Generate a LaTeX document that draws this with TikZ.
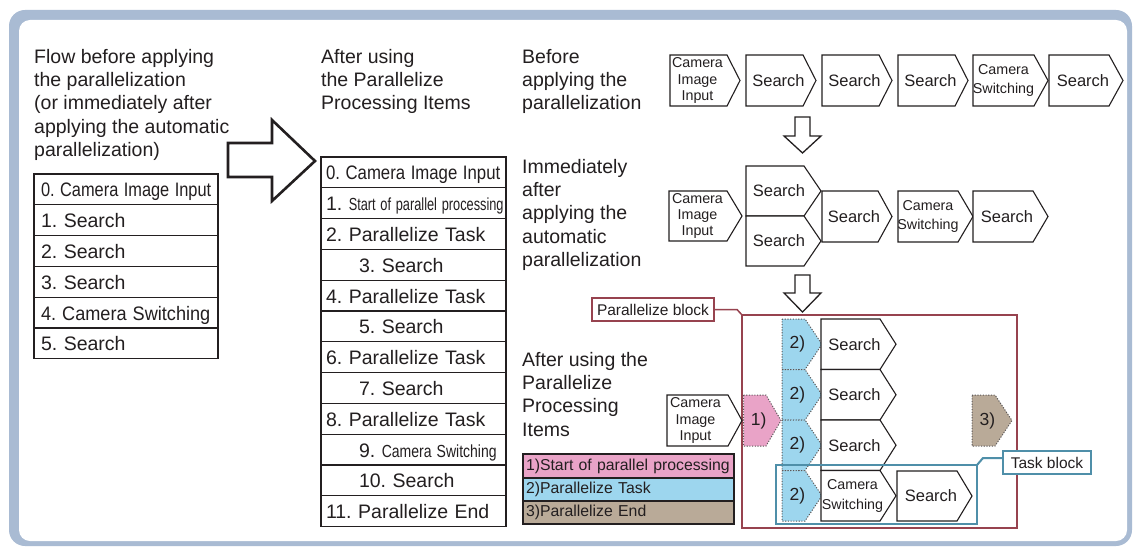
\documentclass[tikz,border=0pt]{standalone}
\usepackage{fontspec}
\usepackage{graphicx}
\setmainfont{Liberation Sans}
\frenchspacing
\definecolor{framecol}{HTML}{A9BBD3}
\definecolor{pinkfill}{HTML}{E9A3C7}
\definecolor{bluefill}{HTML}{9DD6EE}
\definecolor{tanfill}{HTML}{B9AA98}
\definecolor{blockred}{HTML}{97434F}
\definecolor{taskteal}{HTML}{4F8FA9}
\definecolor{ink}{HTML}{231F20}

% #1 name, #2 left x, #3 top y, #4 width to tip, #5 height, #6 tip depth, #7 shape style, #8 label options, #9 text
\newcommand\pentshape[9]{%
  \draw[#7] (#2,#3) -- ++(#4-#6,0) -- ++(#6,#5/2) -- ++(-#6,#5/2) -- ++(-#4+#6,0) -- cycle;
  \node[pentlabel,#8] (#1) at ({#2+(#4-#6)/2+4},{#3+#5/2}) {#9};
}

\begin{document}
\begin{tikzpicture}[x=1pt,y=-1pt,
  every node/.style={text=ink},
  pentbox/.style={draw=ink, line width=1.1pt, fill=white, line join=miter},
  pentdot/.style={draw=ink!75, line width=1pt, dash pattern=on 1.1pt off 1.6pt},
  pentlabel/.style={inner sep=0pt, align=center, font=\fontsize{16.5}{18}\selectfont},
  camfont/.style={font=\fontsize{14.3}{16.3}\selectfont},
  swfont/.style={font=\fontsize{14.3}{19.5}\selectfont},
  numfont/.style={font=\fontsize{17.5}{19}\selectfont},
  heading/.style={anchor=north west, inner sep=0pt, align=left, font=\fontsize{19.5}{23.3}\selectfont},
  tabrow/.style={draw=ink, line width=1.2pt, anchor=north west, inner xsep=7pt, inner ysep=0pt, outer sep=0pt,
     minimum height=30.8pt, text height=15pt, text depth=0pt, align=left, font=\fontsize{19.5}{22}\selectfont},
  ltab/.style={tabrow, text width=170pt},
  mtab/.style={tabrow, inner xsep=5pt, text width=175pt},
  legrow/.style={draw=ink, line width=1.8pt, anchor=north west, inner xsep=3pt, inner ysep=0pt, outer sep=0pt,
     text width=205pt, align=left, font=\fontsize{15.8}{18}\selectfont, text height=11.5pt, text depth=3pt},
  bigarrow/.style={draw=ink, fill=white, line width=1.3pt, line join=miter},
  callout/.style={anchor=north west, inner sep=0pt, outer sep=0pt, fill=white, font=\fontsize{15.5}{18}\selectfont}
]
\useasboundingbox (0,0) rectangle (1134,548);
% frame
\fill[framecol, rounded corners=16pt] (9,10) rectangle (1132,546);
\fill[white, rounded corners=11pt] (19,20) rectangle (1127,541);

% headings
\node[heading] (h1) at (34,49) {Flow before applying\\the parallelization\\(or immediately after\\applying the automatic\\parallelization)};
\node[heading] (h2) at (321,49) {After using\\the Parallelize\\Processing Items};
\node[heading] (h3) at (522,49) {Before\\applying the\\parallelization};
\node[heading] (h4) at (522,159) {Immediately\\after\\applying the\\automatic\\parallelization};
\node[heading] (h5) at (522,352) {After using the\\Parallelize\\Processing\\Items};

% left table
\node[ltab] (l0) at (34,174) {\scalebox{0.84}[1]{0. Camera Image Input}};
\node[ltab] (l1) at (34,204.8) {1. Search};
\node[ltab] (l2) at (34,235.6) {2. Search};
\node[ltab] (l3) at (34,266.4) {3. Search};
\node[ltab] (l4) at (34,297.2) {\scalebox{0.93}[1]{4. Camera Switching}};
\node[ltab] (l5) at (34,328) {5. Search};

% big arrow
\draw[bigarrow, line width=2.6pt] (228,143) -- (272,143) -- (272,120) -- (315,161) -- (272,201) -- (272,177) -- (228,177) -- cycle;

% middle table
\node[mtab] (m0) at (321,157) {\scalebox{0.86}[1]{0. Camera Image Input}};
\node[mtab] (m1) at (321,187.8) {1.~\scalebox{0.73}[1]{\fontsize{17.5}{20}\selectfont Start of parallel processing}};
\node[mtab] (m2) at (321,218.6) {2. Parallelize Task};
\node[mtab] (m3) at (321,249.4) {\hspace*{33pt}3. Search};
\node[mtab] (m4) at (321,280.2) {4. Parallelize Task};
\node[mtab] (m5) at (321,311) {\hspace*{33pt}5. Search};
\node[mtab] (m6) at (321,341.8) {6. Parallelize Task};
\node[mtab] (m7) at (321,372.6) {\hspace*{33pt}7. Search};
\node[mtab] (m8) at (321,403.4) {8. Parallelize Task};
\node[mtab] (m9) at (321,434.2) {\hspace*{33pt}9.~\scalebox{0.8}[1]{\fontsize{17.5}{20}\selectfont Camera Switching}};
\node[mtab] (m10) at (321,465) {\hspace*{33pt}10. Search};
\node[mtab] (m11) at (321,495.8) {11. Parallelize End};

% top flow
\pentshape{a1}{670}{55}{70}{51}{13}{pentbox}{camfont,xshift=-5pt}{Camera\\Image\\Input}
\pentshape{a2}{746}{55}{70}{51}{13}{pentbox}{}{Search}
\pentshape{a3}{822}{55}{70}{51}{13}{pentbox}{}{Search}
\pentshape{a4}{898}{55}{70}{51}{13}{pentbox}{}{Search}
\pentshape{a5}{973}{55}{75}{51}{14}{pentbox}{swfont,xshift=-4pt}{Camera\\Switching}
\pentshape{a6}{1049}{55}{74}{51}{14}{pentbox}{}{Search}

% down arrows
\draw[bigarrow] (795,117) -- (810,117) -- (810,136) -- (821,136) -- (802.5,153) -- (784,136) -- (795,136) -- cycle;
\draw[bigarrow] (795,275) -- (810,275) -- (810,293) -- (821,293) -- (802.5,312) -- (784,293) -- (795,293) -- cycle;

% middle flow
\pentshape{b1}{669}{191}{73}{50}{15}{pentbox}{camfont,xshift=-4.5pt}{Camera\\Image\\Input}
\pentshape{b2}{746}{166}{75}{50}{17}{pentbox}{}{Search}
\pentshape{b3}{746}{216}{75}{50}{17}{pentbox}{}{Search}
\pentshape{b4}{822}{191}{70}{51}{14}{pentbox}{}{Search}
\pentshape{b5}{898}{191}{75}{51}{15}{pentbox}{swfont,xshift=-4pt}{Camera\\Switching}
\pentshape{b6}{973}{191}{75}{51}{15}{pentbox}{}{Search}

% parallelize block
\node[draw=blockred, line width=2.5pt, minimum width=275pt, minimum height=213pt, inner sep=0pt, outer sep=0pt, anchor=north west] (pblock) at (742,315) {};
\node[callout, draw=blockred, line width=1.5pt, minimum width=122pt, minimum height=23pt] (plabel) at (592,298) {Parallelize block};
\coordinate (pbend) at (737,309.5);
\draw[blockred, line width=1.5pt] (plabel.east) -- (pbend) -- (pblock.north west);

\pentshape{c0}{667}{395}{75}{51}{14}{pentbox}{camfont,xshift=-6pt}{Camera\\Image\\Input}
\pentshape{p1}{743.5}{395}{37.5}{51}{15}{pentdot, fill=pinkfill}{numfont}{1)}
\pentshape{q1}{782}{319}{40}{50.5}{17}{pentdot, fill=bluefill}{numfont}{2)}
\pentshape{q2}{782}{369.5}{40}{50.5}{17}{pentdot, fill=bluefill}{numfont}{2)}
\pentshape{q3}{782}{420}{40}{50.5}{17}{pentdot, fill=bluefill}{numfont}{2)}
\pentshape{q4}{782}{470.5}{40}{50.5}{17}{pentdot, fill=bluefill}{numfont}{2)}
\pentshape{s1}{821}{319}{75}{50.5}{16}{pentbox}{}{Search}
\pentshape{s2}{821}{369.5}{75}{50.5}{16}{pentbox}{}{Search}
\pentshape{s3}{821}{420}{75}{50.5}{16}{pentbox}{}{Search}
\pentshape{s4}{821}{470.5}{75}{50.5}{16}{pentbox}{swfont,xshift=-2pt}{Camera\\Switching}
\pentshape{s5}{897}{471}{75}{50}{15}{pentbox}{}{Search}
\pentshape{r1}{972}{395}{40}{51}{17}{pentdot, fill=tanfill}{numfont}{3)}

% task block
\node[draw=taskteal, line width=2.5pt, minimum width=201pt, minimum height=59pt, inner sep=0pt, outer sep=0pt, anchor=north west] (tblock) at (776,465) {};
\node[callout, draw=taskteal, line width=2pt, minimum width=88pt, minimum height=23pt] (tlabel) at (1003,451) {Task block};
\coordinate (tbend) at (983,458);
\coordinate (tjoin) at (1003,458);
\draw[taskteal, line width=2pt] (tblock.north east) -- (tbend) -- (tjoin);

% legend
\node[legrow, fill=pinkfill, minimum height=24pt] (leg1) at (523,454) {1)Start of parallel processing};
\node[legrow, fill=bluefill, minimum height=23pt] (leg2) at (523,478) {2)Parallelize Task};
\node[legrow, fill=tanfill, minimum height=23pt] (leg3) at (523,501) {3)Parallelize End};
\end{tikzpicture}
\end{document}
